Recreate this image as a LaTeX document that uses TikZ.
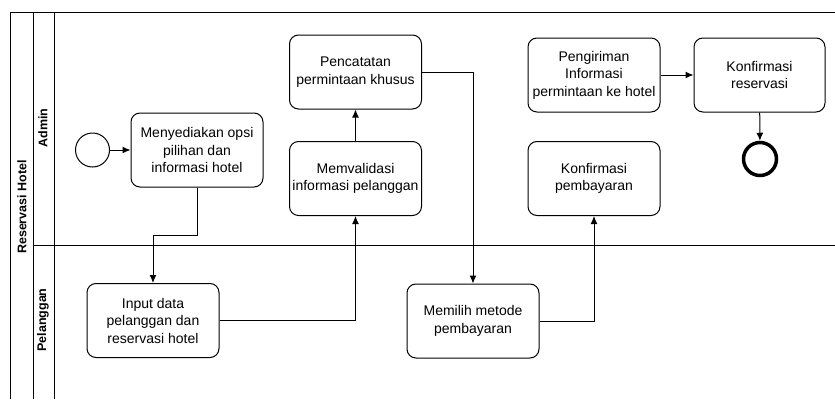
\documentclass[tikz,border=0pt]{standalone}
\usepackage{fontspec}
\setmainfont{Liberation Sans}
\usetikzlibrary{positioning,calc,arrows.meta}

\begin{document}
\begin{tikzpicture}[x=1pt,y=-1pt,line width=1pt,>={Latex[length=8pt,width=7pt]},
    task/.style={draw,rounded corners=9pt,align=center,minimum width=132pt,minimum height=74pt,inner sep=2pt,font=\fontsize{14}{17.5}\selectfont},
    lanelabel/.style={rotate=90,font=\bfseries\fontsize{12.5}{15}\selectfont}]
     \useasboundingbox (0,0) rectangle (835,399);

     % pool and lanes
     \draw (835,12) -- (10,12) -- (10,399);
     \draw (33,12) -- (33,399);
     \draw (54,12) -- (54,399);
     \draw (33,245) -- (835,245);

     \node[lanelabel] (pool) at (22,207) {Reservasi Hotel};
     \node[lanelabel] (admin) at (43,128) {Admin};
     \node[lanelabel] (pelanggan) at (43,320) {Pelanggan};

     % events
     \node[draw,circle,minimum size=34pt,inner sep=0pt] (start) at (92.5,150) {};
     \node[draw,circle,line width=3.5pt,minimum size=33pt,inner sep=0pt] (end) at (760,159) {};

     % tasks
     \node[task] (opsi) at (197,150) {Menyediakan opsi\\pilihan dan\\informasi hotel};
     \node[task] (input) at (153,320.5) {Input data\\pelanggan dan\\reservasi hotel};
     \node[task] (validasi) at (355.5,178.5) {Memvalidasi\\informasi pelanggan};
     \node[task] (catat) at (355.5,72) {Pencatatan\\permintaan khusus};
     \node[task] (metode) at (473,321) {Memilih metode\\pembayaran};
     \node[task] (bayar) at (594,178.5) {Konfirmasi\\pembayaran};
     \node[task] (kirim) at (594,75) {Pengiriman\\Informasi\\permintaan ke hotel};
     \node[task,minimum width=131pt] (reservasi) at (759.5,75) {Konfirmasi\\reservasi};

     \draw[->] (start) -- (opsi);
     \draw[->] (opsi.south) -- ++(0,48) -| (input.north);
     \draw[->] (input.east) -| (validasi.south);
     \draw[->] (validasi) -- (catat);
     \draw[->] (catat.east) -| (metode.north);
     \draw[->] (metode.east) -| (bayar.south);
     \draw[->] (kirim) -- (reservasi);
     \draw[->] (reservasi) -- (end);

\end{tikzpicture}
\end{document}
